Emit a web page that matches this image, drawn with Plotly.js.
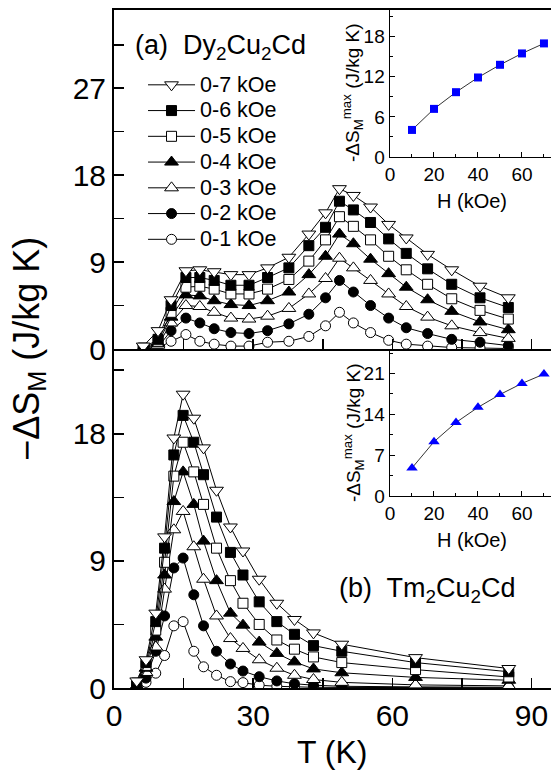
<!DOCTYPE html>
<html>
<head>
<meta charset="utf-8">
<script src="https://cdn.plot.ly/plotly-3.0.1.min.js"></script>
<style>html,body{margin:0;padding:0;background:#fff;}#chart{width:551px;height:782px;}</style>
</head>
<body>
<div id="chart"></div>
<script>
// ---------- data ----------
// (a) Dy2Cu2Cd
const T_a = [6.3, 9.5, 12.3, 15.5, 18.5, 21.6, 25.2, 29.1, 33.1, 37.7, 42.0, 45.6, 48.6, 51.6, 55.3, 59.2, 63.0, 67.6, 72.8, 78.9, 85.0];
const a_7kOe = [0.3, 1.9, 5.1, 8.1, 8.2, 8.0, 7.7, 7.7, 8.4, 9.5, 11.9, 14.1, 16.6, 15.9, 14.7, 12.9, 11.5, 9.8, 8.2, 6.5, 5.3];
const a_6kOe = [0.1, 1.0, 4.5, 7.4, 7.4, 7.1, 6.6, 6.6, 7.4, 8.4, 10.7, 12.6, 15.3, 14.4, 13.1, 11.4, 9.9, 8.3, 6.7, 5.3, 4.3];
const a_5kOe = [0.05, 0.8, 3.8, 6.4, 6.5, 6.2, 5.7, 5.7, 6.2, 7.2, 9.1, 11.3, 13.7, 12.7, 11.3, 9.6, 8.2, 6.7, 5.2, 4.0, 3.1];
const a_4kOe = [0.0, 0.6, 3.3, 5.6, 5.5, 5.0, 4.6, 4.5, 5.0, 5.9, 7.7, 9.6, 11.9, 10.9, 9.3, 7.8, 6.4, 5.1, 3.9, 2.8, 2.0];
const a_3kOe = [0.0, 0.4, 2.7, 4.5, 4.4, 3.8, 3.2, 3.1, 3.4, 4.2, 5.7, 7.3, 9.4, 8.4, 7.1, 5.7, 4.4, 3.3, 2.4, 1.7, 1.1];
const a_2kOe = [0.0, 0.2, 1.9, 3.2, 2.7, 2.1, 1.7, 1.6, 1.9, 2.6, 3.6, 5.3, 7.1, 5.9, 4.5, 3.2, 2.2, 1.6, 1.0, 0.7, 0.35];
const a_1kOe = [0.0, 0.1, 0.8, 1.5, 0.8, 0.5, 0.3, 0.3, 0.7, 0.8, 1.3, 2.4, 3.8, 2.7, 1.7, 0.9, 0.5, 0.3, 0.15, 0.1, 0.05];

// (b) Tm2Cu2Cd
const T_b = [4.9, 6.9, 9.0, 10.9, 12.9, 14.9, 17.2, 19.3, 22.1, 25.1, 27.8, 31.3, 35.1, 38.9, 43.0, 49.1, 65.0, 85.1];
const b_7kOe = [0.5, 2.0, 5.3, 10.7, 17.7, 20.8, 19.1, 17.0, 14.0, 11.4, 9.7, 7.7, 6.0, 4.85, 3.9, 3.1, 2.15, 1.38];
const b_6kOe = [0.35, 1.8, 4.7, 9.9, 16.5, 19.3, 17.4, 15.1, 12.1, 9.6, 8.0, 6.1, 4.7, 3.8, 3.0, 2.6, 1.8, 1.15];
const b_5kOe = [0.25, 1.6, 4.1, 8.9, 15.0, 17.4, 15.3, 13.0, 9.9, 7.6, 6.0, 4.5, 3.4, 2.75, 2.2, 1.8, 1.3, 0.78];
const b_4kOe = [0.15, 1.4, 3.6, 8.0, 13.2, 15.3, 13.0, 10.4, 7.6, 5.3, 4.45, 3.25, 2.45, 1.85, 1.35, 1.08, 0.75, 0.55];
const b_3kOe = [0.1, 1.1, 2.9, 7.0, 11.2, 12.5, 10.0, 7.7, 5.1, 3.5, 2.8, 2.0, 1.4, 0.9, 0.6, 0.4, 0.22, 0.15];
const b_2kOe = [0.1, 0.7, 2.6, 5.1, 8.5, 9.2, 6.6, 4.4, 2.6, 1.7, 1.2, 0.8, 0.5, 0.3, 0.2, 0.12, 0.08, 0.05];
const b_1kOe = [0.05, 0.4, 1.05, 2.3, 4.4, 4.7, 2.6, 1.5, 0.9, 0.45, 0.38, 0.2, 0.12, 0.08, 0.05, 0.04, 0.03, 0.02];

// insets: maximum entropy change vs field
const H_kOe = [10, 20, 30, 40, 50, 60, 70];
const a_max = [4.05, 7.2, 9.7, 11.9, 13.8, 15.5, 17.0];
const b_max = [4.8, 9.3, 12.6, 15.2, 17.4, 19.3, 20.9];

const fieldLabels = ['0-1 kOe', '0-2 kOe', '0-3 kOe', '0-4 kOe', '0-5 kOe', '0-6 kOe', '0-7 kOe'];

// ---------- styles ----------
const FONT = 'Liberation Sans, Arial, sans-serif';
const symbols = ['circle', 'circle', 'triangle-up', 'triangle-up', 'square', 'square', 'triangle-down'];
const fills = ['#ffffff', '#000000', '#ffffff', '#000000', '#ffffff', '#000000', '#ffffff'];
const sizes = [10, 10, 12, 12, 10, 10, 12];

const seriesA = [a_1kOe, a_2kOe, a_3kOe, a_4kOe, a_5kOe, a_6kOe, a_7kOe];
const seriesB = [b_1kOe, b_2kOe, b_3kOe, b_4kOe, b_5kOe, b_6kOe, b_7kOe];

const traces = [];
for (let i = 0; i < 7; i++) {
  traces.push({
    x: T_a, y: seriesA[i], xaxis: 'x2', yaxis: 'y2', type: 'scatter', mode: 'lines+markers',
    name: '<span style="font-size:21.5px">' + fieldLabels[i] + '</span>', showlegend: true, legendrank: 7 - i,
    line: {color: '#000', width: 1},
    marker: {symbol: symbols[i], size: sizes[i], color: fills[i], line: {color: '#000', width: 1}}
  });
}
for (let i = 0; i < 7; i++) {
  traces.push({
    x: T_b, y: seriesB[i], xaxis: 'x', yaxis: 'y', type: 'scatter', mode: 'lines+markers',
    name: fieldLabels[i], showlegend: false,
    line: {color: '#000', width: 1},
    marker: {symbol: symbols[i], size: sizes[i], color: fills[i], line: {color: '#000', width: 1}}
  });
}
traces.push({
  x: H_kOe, y: a_max, xaxis: 'x3', yaxis: 'y3', type: 'scatter', mode: 'lines+markers', showlegend: false,
  line: {color: '#333', width: 1}, marker: {symbol: 'square', size: 8, color: '#0000ff', line: {width: 0}}
});
traces.push({
  x: H_kOe, y: b_max, xaxis: 'x4', yaxis: 'y4', type: 'scatter', mode: 'lines+markers', showlegend: false,
  line: {color: '#333', width: 1}, marker: {symbol: 'triangle-up', size: 10, color: '#0000ff', line: {width: 0}}
});

const mainTickFont = {family: FONT, size: 30, color: '#000'};
const insetTickFont = {family: FONT, size: 19, color: '#000'};

const commonMain = {
  showline: true, linecolor: '#000', linewidth: 2, ticks: 'inside', ticklen: 10, tickwidth: 1.5,
  tickcolor: '#000', showgrid: false, zeroline: false, tickfont: mainTickFont
};
const commonInset = {
  showline: true, linecolor: '#000', linewidth: 1.5, ticks: 'inside', ticklen: 5, tickwidth: 1,
  tickcolor: '#000', showgrid: false, zeroline: false, tickfont: insetTickFont
};

const layout = {
  width: 551, height: 782,
  margin: {l: 114, r: 0, t: 10, b: 94},
  paper_bgcolor: '#fff', plot_bgcolor: 'rgba(0,0,0,0)',
  font: {family: FONT, color: '#000'},
  showlegend: true,
  legend: {
    x: 0.0664, y: 0.916, xanchor: 'left', yanchor: 'top',
    font: {family: FONT, size: 17.5, color: '#000'},
    bgcolor: 'rgba(0,0,0,0)', borderwidth: 0, tracegroupgap: 0, itemsizing: 'trace', itemwidth: 47
  },
  xaxis: Object.assign({}, commonMain, {
    domain: [0, 1], anchor: 'y', range: [0, 94.2], tickmode: 'linear', tick0: 0, dtick: 30,
    minor: {dtick: 15, ticks: 'inside', ticklen: 10, tickwidth: 1.5, tickcolor: '#000'}
  }),
  yaxis: Object.assign({}, commonMain, {
    domain: [0, 0.5], anchor: 'x', range: [0, 24.0], tickmode: 'linear', tick0: 0, dtick: 9,
    minor: {dtick: 4.5, ticks: 'inside', ticklen: 10, tickwidth: 1.5, tickcolor: '#000'}
  }),
  xaxis2: Object.assign({}, commonMain, {
    domain: [0, 1], anchor: 'y2', matches: 'x', range: [0, 94.2], tickmode: 'linear', tick0: 0, dtick: 30,
    showticklabels: false, mirror: true,
    minor: {dtick: 15, ticks: 'inside', ticklen: 10, tickwidth: 1.5, tickcolor: '#000'}
  }),
  yaxis2: Object.assign({}, commonMain, {
    domain: [0.5, 1], anchor: 'x2', range: [0, 35.1], tickmode: 'linear', tick0: 0, dtick: 9,
    minor: {dtick: 4.5, ticks: 'inside', ticklen: 10, tickwidth: 1.5, tickcolor: '#000'}
  }),
  xaxis3: Object.assign({}, commonInset, {
    domain: [0.6316, 1], anchor: 'y3', range: [0, 73.2], tickmode: 'linear', tick0: 0, dtick: 20,
    minor: {dtick: 10, ticks: 'inside', ticklen: 3, tickwidth: 1, tickcolor: '#000'}
  }),
  yaxis3: Object.assign({}, commonInset, {
    domain: [0.7832, 1], anchor: 'x3', range: [0, 22.0], tickmode: 'linear', tick0: 0, dtick: 6,
    minor: {dtick: 3, ticks: 'inside', ticklen: 3, tickwidth: 1, tickcolor: '#000'}
  }),
  xaxis4: Object.assign({}, commonInset, {
    domain: [0.6316, 1], anchor: 'y4', range: [0, 73.2], tickmode: 'linear', tick0: 0, dtick: 20,
    minor: {dtick: 10, ticks: 'inside', ticklen: 3, tickwidth: 1, tickcolor: '#000'}
  }),
  yaxis4: Object.assign({}, commonInset, {
    domain: [0.2832, 0.5], anchor: 'x4', range: [0, 25.2], tickmode: 'linear', tick0: 0, dtick: 7,
    minor: {dtick: 3.5, ticks: 'inside', ticklen: 3, tickwidth: 1, tickcolor: '#000'}
  }),
  annotations: [
    {text: 'T (K)', xref: 'paper', yref: 'paper', x: 0.5, y: -0.094, xanchor: 'center', yanchor: 'middle',
     showarrow: false, font: {family: FONT, size: 32, color: '#000'}},
    {text: '\u2212\u0394S<sub>M</sub> (J/kg K)', xref: 'paper', yref: 'paper', x: -0.195, y: 0.5,
     xanchor: 'center', yanchor: 'middle', textangle: -90, showarrow: false,
     font: {family: FONT, size: 36, color: '#000'}},
    {text: '(a)  Dy<sub>2</sub>Cu<sub>2</sub>Cd', xref: 'paper', yref: 'paper', x: 0.043, y: 0.945,
     xanchor: 'left', yanchor: 'middle', showarrow: false, font: {family: FONT, size: 27, color: '#000'}},
    {text: '(b)  Tm<sub>2</sub>Cu<sub>2</sub>Cd', xref: 'paper', yref: 'paper', x: 0.51, y: 0.144,
     xanchor: 'left', yanchor: 'middle', showarrow: false, font: {family: FONT, size: 27, color: '#000'}},
    {text: 'H (kOe)', xref: 'paper', yref: 'paper', x: 0.819, y: 0.718, xanchor: 'center', yanchor: 'middle',
     showarrow: false, font: {family: FONT, size: 20, color: '#000'}},
    {text: 'H (kOe)', xref: 'paper', yref: 'paper', x: 0.819, y: 0.218, xanchor: 'center', yanchor: 'middle',
     showarrow: false, font: {family: FONT, size: 20, color: '#000'}},
    {text: '-\u0394S<sub>M</sub><sup>max</sup> (J/kg K)', xref: 'paper', yref: 'paper', x: 0.547, y: 0.8776,
     xanchor: 'center', yanchor: 'middle', textangle: -90, showarrow: false,
     font: {family: FONT, size: 19, color: '#000'}},
    {text: '-\u0394S<sub>M</sub><sup>max</sup> (J/kg K)', xref: 'paper', yref: 'paper', x: 0.547, y: 0.376,
     xanchor: 'center', yanchor: 'middle', textangle: -90, showarrow: false,
     font: {family: FONT, size: 19, color: '#000'}}
  ]
};

Plotly.newPlot('chart', traces, layout, {staticPlot: true, displayModeBar: false});
</script>
</body>
</html>
